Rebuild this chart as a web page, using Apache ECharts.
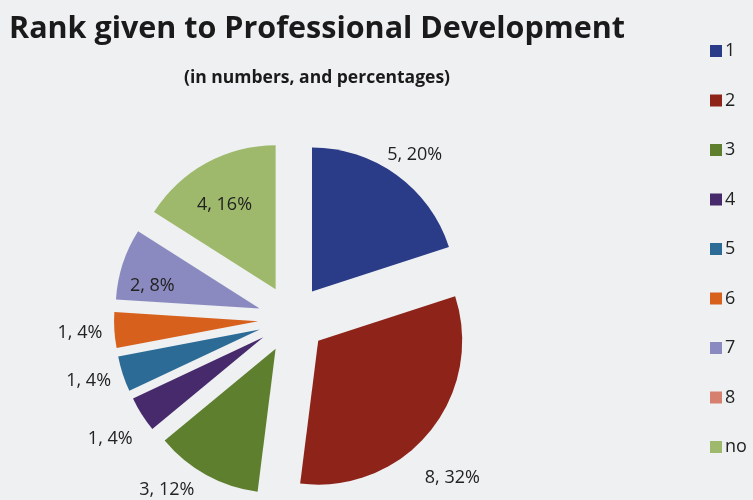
<!DOCTYPE html>
<html>
<head>
<meta charset="utf-8">
<title>Rank given to Professional Development</title>
<script src="https://cdn.jsdelivr.net/npm/echarts@6/dist/echarts.min.js"></script>
<style>
  html, body { margin: 0; padding: 0; background: #eef0f2; }
  #chart { width: 753px; height: 500px; }
</style>
</head>
<body>
<div id="chart"></div>
<script>
// Ranks given by respondents and how many chose each
const categories = ['1', '2', '3', '4', '5', '6', '7', '8', 'no'];
const counts = [5, 8, 3, 1, 1, 1, 2, 0, 4];
const colors = ['#2a3b88', '#8e2419', '#5e7f2e', '#472a6b', '#2d6b97', '#d7601c', '#8a8ac0', '#d68070', '#9eb96b'];

// label placement: inside the slice for these, outside for the rest,
// plus a small nudge (in px) so each label sits where it reads best
const insideLabels = ['7', 'no'];
const labelNudge = {
  '1': [-18, -15],
  '2': [-14, 42],
  '3': [-4, 10],
  '4': [1, 21],
  '5': [-1, 5],
  '6': [-1, 2],
  '7': [-36, 1],
  'no': [-15, -19]
};

const total = counts.reduce((a, b) => a + b, 0);

const data = categories.map((name, i) => ({
  name: name,
  value: counts[i],
  selected: true,
  itemStyle: { color: colors[i] },
  label: {
    show: counts[i] > 0,
    position: insideLabels.includes(name) ? 'inside' : 'outside'
  }
}));

const chart = echarts.init(document.getElementById('chart'), null, { renderer: 'canvas' });
chart.setOption({
  backgroundColor: '#eef0f2',
  animation: false,
  title: {
    text: 'Rank given to Professional Development',
    subtext: '(in numbers, and percentages)',
    left: 312,
    textAlign: 'center',
    top: 9,
    itemGap: 24,
    textStyle: { fontFamily: 'Open Sans', fontWeight: 'bold', fontSize: 30.5, color: '#1a1a1a' },
    subtextStyle: { fontFamily: 'Open Sans', fontWeight: 'bold', fontSize: 17.5, color: '#1a1a1a' }
  },
  legend: {
    orient: 'vertical',
    left: 705,
    top: 37,
    itemWidth: 12,
    itemHeight: 12,
    itemGap: 31.5,
    icon: 'rect',
    selectedMode: false,
    data: categories,
    textStyle: { fontFamily: 'Open Sans', fontSize: 18, color: '#222', lineHeight: 18, padding: [0, 0, 0, -2] }
  },
  series: [{
    type: 'pie',
    center: [292, 319],
    radius: 144,
    startAngle: 90,
    clockwise: true,
    selectedMode: 'multiple',
    selectedOffset: 34,
    avoidLabelOverlap: false,
    emphasis: { disabled: true },
    label: {
      fontFamily: 'Open Sans',
      fontSize: 18,
      color: '#222',
      formatter: (p) => p.value + ', ' + Math.round(p.value / total * 100) + '%'
    },
    labelLine: { show: false, length: 6, length2: 0 },
    labelLayout: (p) => {
      const n = labelNudge[categories[p.dataIndex]] || [0, 0];
      return { dx: n[0], dy: n[1] };
    },
    data: data
  }]
});
</script>
</body>
</html>
